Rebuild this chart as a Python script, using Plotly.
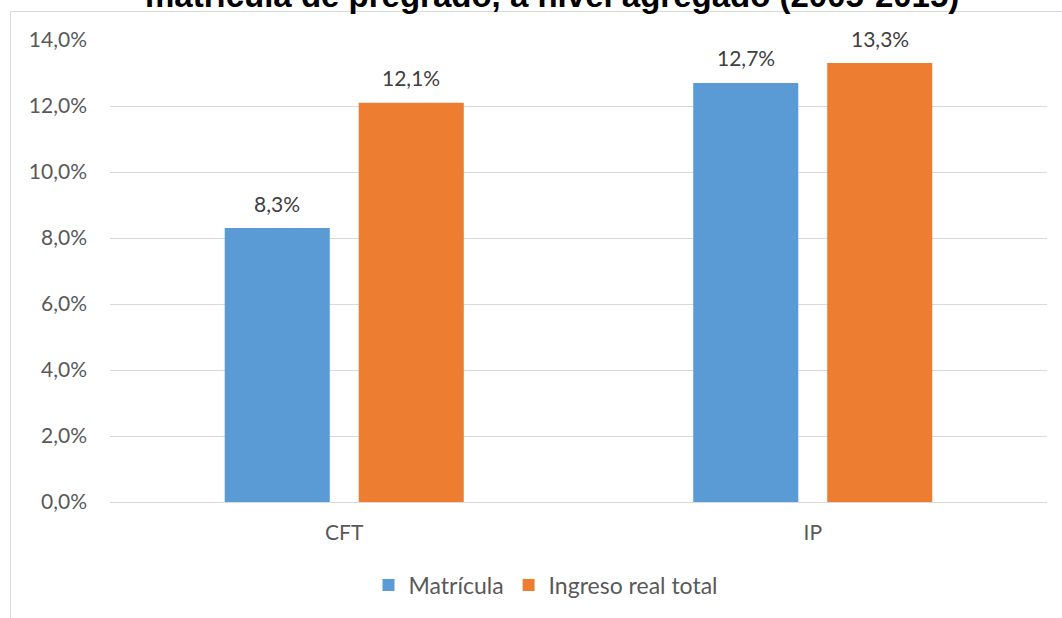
import plotly.graph_objects as go

categories = ["CFT", "IP"]
matricula = [8.3, 12.7]
ingreso_real_total = [12.1, 13.3]
series_names = ["Matrícula", "Ingreso real total"]
title_text = "matrícula de pregrado, a nivel agregado (2005-2015)"

W, H = 1062, 618
L, R, T, B = 110, 15, 40, 116
plot_w = W - L - R
plot_h = H - T - B


def px_x(px):
    return (px - L) / plot_w


def px_y(py):
    return (H - B - py) / plot_h


BLUE = "#5B9BD5"
ORANGE = "#ED7D31"
FONT = "Lato, 'Open Sans', sans-serif"
FS = 21

BARGAP = 0.428
GROUPGAP = 0.216
# horizontal offset (px) of each bar centre from its category centre
cat_w = plot_w / len(categories)
slot = cat_w * (1 - BARGAP) / 2
offsets = [-slot / 2, slot / 2]

fig = go.Figure()
annotations = []
for i, (name, vals, col) in enumerate([(series_names[0], matricula, BLUE),
                                       (series_names[1], ingreso_real_total, ORANGE)]):
    fig.add_trace(go.Bar(
        x=categories, y=vals, name=name, marker=dict(color=col, line=dict(width=0)),
    ))
    for c, v in zip(categories, vals):
        annotations.append(dict(
            x=c, y=v, xref="x", yref="y", xshift=offsets[i], yshift=25,
            text=f"{v:.1f}%".replace(".", ","), showarrow=False,
            xanchor="center", yanchor="middle",
            font=dict(size=FS, color="#404040", family=FONT),
        ))

annotations.append(dict(
    text=title_text, xref="paper", yref="paper",
    x=px_x(552), y=px_y(-4), xanchor="center", yanchor="middle",
    showarrow=False, font=dict(family="Liberation Sans, Arial, sans-serif",
                               size=33, color="black", weight="bold"),
))

fig.update_layout(
    width=W, height=H,
    margin=dict(l=L, r=R, t=T, b=B, autoexpand=False),
    paper_bgcolor="white", plot_bgcolor="white",
    separators=",.",
    barmode="group", bargap=BARGAP, bargroupgap=GROUPGAP,
    font=dict(family=FONT, color="#595959", size=FS),
    showlegend=True,
    legend=dict(orientation="h", x=px_x(546), xanchor="center", y=px_y(585), yanchor="middle",
                font=dict(size=23, color="#595959", family=FONT), traceorder="normal",
                itemwidth=30),
    xaxis=dict(showgrid=False, showline=False, zeroline=False, ticks="",
               ticklabelstandoff=16, tickfont=dict(size=FS, color="#595959")),
    yaxis=dict(range=[0, 14], dtick=2, tickformat=".1f", ticksuffix="%",
               showgrid=True, gridcolor="#D9D9D9", gridwidth=1,
               zeroline=True, zerolinecolor="#D9D9D9", zerolinewidth=1,
               showline=False, ticks="", ticklabelstandoff=22,
               tickfont=dict(size=FS, color="#595959")),
    annotations=annotations,
    shapes=[
        dict(type="line", xref="paper", yref="paper", x0=px_x(10.5), x1=px_x(W + 5),
             y0=px_y(11.5), y1=px_y(11.5), line=dict(color="#D9D9D9", width=1)),
        dict(type="line", xref="paper", yref="paper", x0=px_x(10.5), x1=px_x(10.5),
             y0=px_y(11.5), y1=px_y(H + 5), line=dict(color="#D9D9D9", width=1)),
    ],
)

fig.write_html("out.html")
